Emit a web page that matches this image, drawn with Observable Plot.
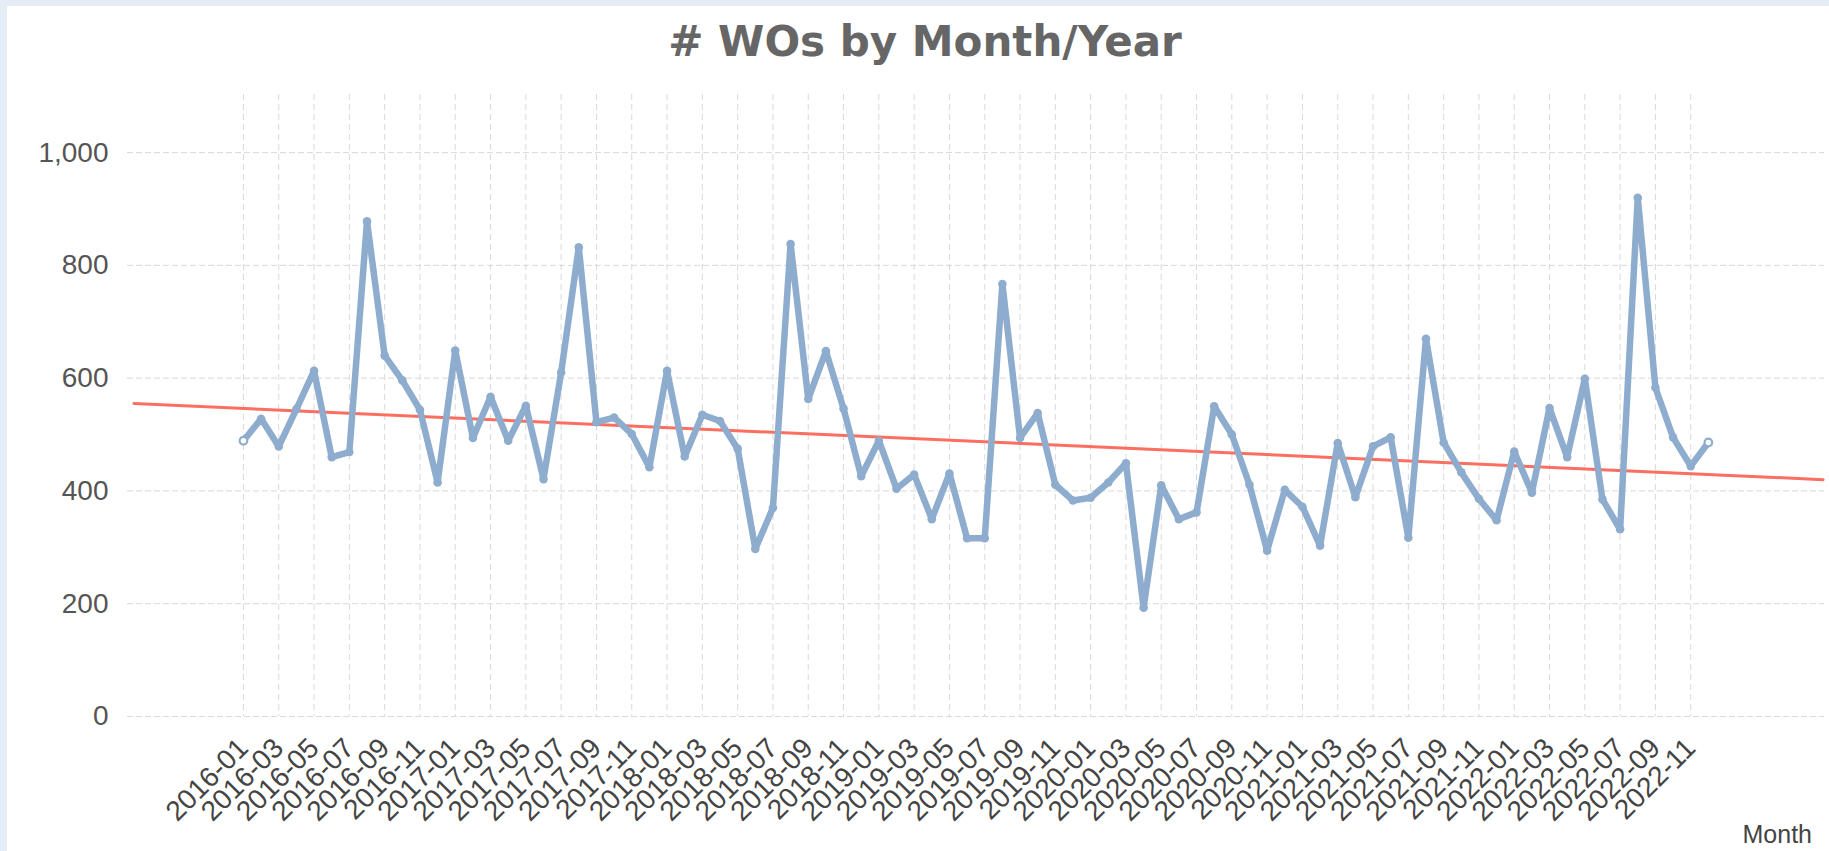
<!DOCTYPE html>
<html>
<head>
<meta charset="utf-8">
<script src="https://cdn.jsdelivr.net/npm/d3@7"></script>
<script src="https://cdn.jsdelivr.net/npm/@observablehq/plot@0.6"></script>
<style>
  html, body { margin: 0; padding: 0; }
  body { width: 1829px; height: 851px; background: #e4edf5; position: relative; overflow: hidden; }
  #panel { position: absolute; left: 7px; top: 6px; width: 1822px; height: 845px; background: #ffffff; }
  #title { position: absolute; left: 0; top: 21px; width: 1850px; text-align: center;
           font-family: "DejaVu Sans", Verdana, sans-serif; font-weight: bold; font-size: 42px;
           line-height: 42px; color: #666666; }
  #chart { position: absolute; left: 0; top: 80px; }
  #xlabel { position: absolute; right: 17px; top: 822px; font-family: "Liberation Sans Narrow", "Liberation Sans", Arial, sans-serif;
            font-size: 25px; line-height: 25px; color: #444; }
</style>
</head>
<body>
<div id="panel"></div>
<div id="title"># WOs by Month/Year</div>
<div id="chart"></div>
<div id="xlabel">Month</div>
<script>
// Categories: months shown on the x axis
const months = [
  "2016-01","2016-02","2016-03","2016-04","2016-05","2016-06","2016-07","2016-08","2016-09","2016-10","2016-11","2016-12",
  "2017-01","2017-02","2017-03","2017-04","2017-05","2017-06","2017-07","2017-08","2017-09","2017-10","2017-11","2017-12",
  "2018-01","2018-02","2018-03","2018-04","2018-05","2018-06","2018-07","2018-08","2018-09","2018-10","2018-11","2018-12",
  "2019-01","2019-02","2019-03","2019-04","2019-05","2019-06","2019-07","2019-08","2019-09","2019-10","2019-11","2019-12",
  "2020-01","2020-02","2020-03","2020-04","2020-05","2020-06","2020-07","2020-08","2020-09","2020-10","2020-11","2020-12",
  "2021-01","2021-02","2021-03","2021-04","2021-05","2021-06","2021-07","2021-08","2021-09","2021-10","2021-11","2021-12",
  "2022-01","2022-02","2022-03","2022-04","2022-05","2022-06","2022-07","2022-08","2022-09","2022-10","2022-11","2022-12"
];

// Series: # WOs per month
const wos = [
  489, 528, 479, 545, 613, 460, 469, 878, 640, 596, 544, 415,
  649, 494, 567, 489, 551, 421, 610, 832, 522, 530, 501, 442,
  613, 461, 535, 524, 475, 297, 370, 838, 563, 648, 546, 426,
  489, 404, 429, 350, 431, 316, 316, 767, 494, 538, 411, 383,
  388, 415, 449, 193, 410, 350, 362, 550, 500, 411, 294, 402,
  372, 303, 485, 389, 479, 495, 317, 670, 486, 433, 386, 348,
  470, 397, 547, 460, 599, 385, 332, 920, 583, 495, 444, 486
];

// Trend line end points (month offset from 2016-01, value)
const trendMonth = [-6.2, 89.5];
const trendValue = [555, 420];

// Tick labels
const xTickLabels = [
  "2016-01","2016-03","2016-05","2016-07","2016-09","2016-11",
  "2017-01","2017-03","2017-05","2017-07","2017-09","2017-11",
  "2018-01","2018-03","2018-05","2018-07","2018-09","2018-11",
  "2019-01","2019-03","2019-05","2019-07","2019-09","2019-11",
  "2020-01","2020-03","2020-05","2020-07","2020-09","2020-11",
  "2021-01","2021-03","2021-05","2021-07","2021-09","2021-11",
  "2022-01","2022-03","2022-05","2022-07","2022-09","2022-11"
];
const yTicks = [0, 200, 400, 600, 800, 1000];

const data = months.map((m, i) => ({i, month: m, value: wos[i]}));
const ends = [data[0], data[data.length - 1]];
const inner = data.slice(1, -1);
const trend = trendMonth.map((t, k) => ({i: t, value: trendValue[k]}));
const xTicks = xTickLabels.map(l => months.indexOf(l));

const blue = "#8eacce";
const red = "#fb6f60";
const grid = "#d9d9d9";

const chart = Plot.plot({
  width: 1829,
  height: 771,
  marginLeft: 127,
  marginRight: 5,
  marginTop: 14,
  marginBottom: 135,
  style: {background: "transparent", fontFamily: "'Liberation Sans Narrow', 'Liberation Sans', Arial, sans-serif", fontSize: "28px", color: "#555"},
  x: {type: "linear", domain: [-6.57, 89.58]},
  y: {domain: [0, 1103]},
  marks: [
    Plot.gridY(yTicks, {stroke: grid, strokeOpacity: 1, strokeDasharray: "6,3"}),
    Plot.gridX(xTicks, {stroke: grid, strokeOpacity: 1, strokeDasharray: "6,4"}),
    Plot.axisY(yTicks, {tickSize: 0, tickPadding: 19, tickFormat: d3.format(","), fill: "#555", label: null}),
    Plot.axisX(xTicks, {tickSize: 0, tickPadding: 27, tickRotate: -45, tickFormat: i => months[i], fill: "#444", label: null}),
    Plot.line(trend, {x: "i", y: "value", stroke: red, strokeWidth: 3}),
    Plot.line(data, {x: "i", y: "value", stroke: blue, strokeWidth: 6.5}),
    Plot.dot(inner, {x: "i", y: "value", r: 4.3, fill: blue}),
    Plot.dot(ends, {x: "i", y: "value", r: 3.8, fill: "white", stroke: blue, strokeWidth: 2.2})
  ]
});
document.getElementById("chart").appendChild(chart);
</script>
</body>
</html>
